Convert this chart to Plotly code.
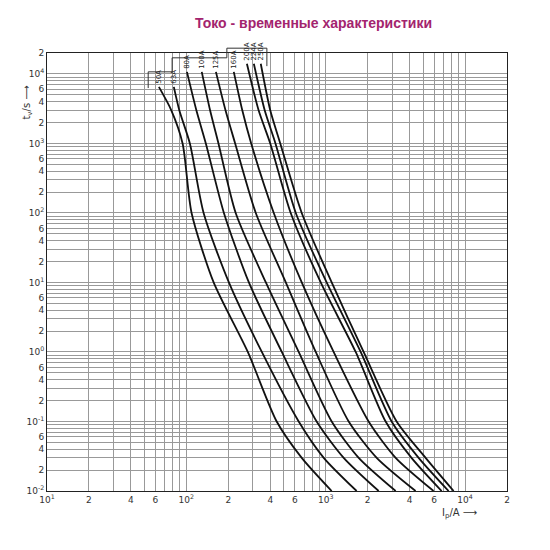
import math
import plotly.graph_objects as go

ratings = ["50A", "63A", "80A", "100A", "125A", "160A", "200A", "224A", "250A"]
top_t = [6500, 6500, 10700, 10700, 10700, 10700, 14000, 14000, 14000]
top_i = [63.5, 81.3, 101, 129, 163, 219, 272, 305, 342]
times = [3000, 1000, 100, 10, 1, 0.1, 0.03, 0.01]
currents = [
    [78, 94, 109, 157, 276, 445, 673, 1104],
    [89, 106, 133, 202, 348, 640, 968, 1667],
    [118, 138, 186, 281, 484, 861, 1346, 2399],
    [148, 170, 226, 372, 640, 1104, 1725, 3177],
    [191, 224, 315, 517, 848, 1462, 2323, 4416],
    [252, 292, 424, 673, 1140, 2032, 3177, 5943],
    [330, 400, 561, 921, 1641, 2692, 4130, 6790],
    [365, 436, 610, 1016, 1782, 2972, 4645, 7620],
    [400, 472, 673, 1104, 1871, 3228, 5212, 8280],
]

fig = go.Figure()
for k in range(len(ratings)):
    fig.add_trace(go.Scatter(
        x=[top_i[k]] + currents[k], y=[top_t[k]] + times,
        mode="lines", line=dict(color="#111", width=1.8, shape="spline", smoothing=0.7),
        showlegend=False, hoverinfo="skip"))
    fig.add_annotation(x=math.log10(top_i[k]), y=math.log10(top_t[k]), text=ratings[k],
                       textangle=-90, showarrow=False, yanchor="bottom", xanchor="center",
                       yshift=1, font=dict(size=7, color="#222"))

# staircase label box
fig.add_shape(type="path", xref="paper", yref="paper",
              path="M 0.22,0.920 L 0.22,0.957 L 0.272,0.957 L 0.272,0.989 "
                   "L 0.391,0.989 L 0.391,1.011 L 0.478,1.011 L 0.478,0.970",
              line=dict(color="#333", width=1))

tv, tt = [], []
for d in range(1, 5):
    for m in range(1, 10):
        v = m * 10 ** d
        if v > 20000:
            break
        tv.append(v)
        tt.append("10<sup>%d</sup>" % d if m == 1 else (str(m) if m in (2, 4, 6) else ""))
yv, yt = [], []
for d in range(-2, 5):
    for m in range(1, 10):
        v = m * 10.0 ** d
        if v > 20000:
            break
        yv.append(v)
        yt.append("10<sup>%d</sup>" % d if m == 1 else (str(m) if m in (2, 4, 6) else ""))

fig.update_xaxes(type="log", range=[1, 4.301], tickvals=tv, ticktext=tt, showgrid=True,
                 gridcolor="#999", gridwidth=0.8, showline=True, linecolor="#222", mirror=True,
                 ticks="", tickfont=dict(size=9, color="#333"), zeroline=False)
fig.update_yaxes(type="log", range=[-2, 4.301], tickvals=yv, ticktext=yt, showgrid=True,
                 gridcolor="#999", gridwidth=0.8, showline=True, linecolor="#222", mirror=True,
                 ticks="", tickfont=dict(size=9, color="#333"), zeroline=False)

fig.add_annotation(xref="paper", yref="paper", x=-0.06, y=0.93, text="t<sub>v</sub>/s ⟶",
                   textangle=-90, showarrow=False, font=dict(size=10, color="#333"))
fig.add_annotation(xref="paper", yref="paper", x=0.94, y=-0.07, text="I<sub>p</sub>/A ⟶",
                   showarrow=False, font=dict(size=10, color="#333"))
fig.add_annotation(xref="paper", yref="paper", x=0.58, y=1.045, yanchor="bottom",
                   text="<b>Токо - временные характеристики</b>", showarrow=False,
                   font=dict(size=14, color="#a3246e", family="Liberation Sans"))

fig.update_layout(width=550, height=550, margin=dict(l=39, r=51, t=45, b=67),
                  plot_bgcolor="white", paper_bgcolor="white",
                  font=dict(family="DejaVu Sans"))
fig.write_html("out.html")
